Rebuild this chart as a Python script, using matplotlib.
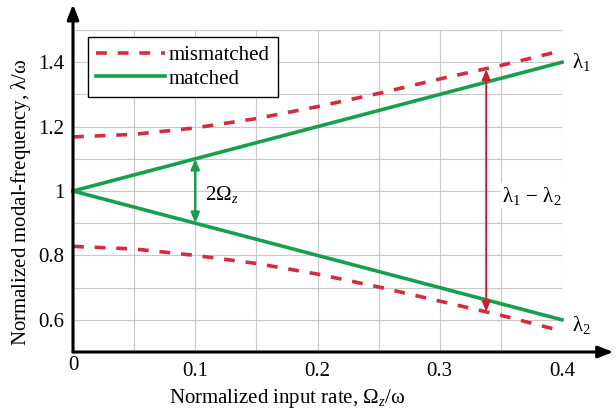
import matplotlib
matplotlib.use("Agg")
import matplotlib.pyplot as plt
import matplotlib.transforms as mtransforms
import numpy as np

plt.rcParams['font.family'] = ['Liberation Serif', 'DejaVu Serif']
plt.rcParams['mathtext.fontset'] = 'custom'
plt.rcParams['mathtext.rm'] = 'Liberation Serif'
plt.rcParams['mathtext.it'] = 'Liberation Serif:italic'

# data
x_mis = [0.0, 0.05, 0.1, 0.15, 0.2, 0.25, 0.3, 0.35, 0.4]
upper_mis = [1.168, 1.176, 1.196, 1.225, 1.262, 1.303, 1.348, 1.390, 1.436]
lower_mis = [0.828, 0.820, 0.800, 0.775, 0.742, 0.702, 0.658, 0.614, 0.565]
x_mat = [0.0, 0.4]
upper_mat = [1.0, 1.4]
lower_mat = [1.0, 0.6]
xticks = [0, 0.1, 0.2, 0.3, 0.4]
xticklabels = ['0', '0.1', '0.2', '0.3', '0.4']
yticks = [0.6, 0.8, 1.0, 1.2, 1.4]
yticklabels = ['0.6', '0.8', '1', '1.2', '1.4']

red = '#d52b3d'
green = '#17a04c'
fs = 15

fig = plt.figure(figsize=(6.16, 4.15), dpi=100)
ax = fig.add_axes([73/616, 1-352/415, (562-73)/616, (352-30)/415])
ax.set_xlim(0, 0.4)
ax.set_ylim(0.5, 1.5)

ax.set_xticks(xticks)
ax.set_xticklabels(xticklabels)
ax.set_xticks(np.arange(0, 0.401, 0.05), minor=True)
ax.set_yticks(yticks)
ax.set_yticklabels(yticklabels)
ax.set_yticks(np.arange(0.5, 1.501, 0.1), minor=True)
ax.grid(True, which='both', color='#c8c8c8', lw=0.8)
ax.tick_params(which='both', length=0, labelsize=fs)
ax.tick_params(axis='x', pad=7)
ax.tick_params(axis='y', pad=6)
for s in ax.spines.values():
    s.set_visible(False)
# lift the "0" label a bit
lbl0 = ax.get_xticklabels()[0]
lbl0.set_transform(lbl0.get_transform() + mtransforms.ScaledTranslation(0, 6/100, fig.dpi_scale_trans))

# axes arrows
ax.annotate('', xy=(1.105, 0), xytext=(0, 0), xycoords='axes fraction',
            arrowprops=dict(arrowstyle='-|>,head_length=0.9,head_width=0.35', color='black', lw=2.2,
                            shrinkA=0, shrinkB=0), annotation_clip=False)
ax.annotate('', xy=(0, 1.08), xytext=(0, 0), xycoords='axes fraction',
            arrowprops=dict(arrowstyle='-|>,head_length=0.9,head_width=0.35', color='black', lw=2.2,
                            shrinkA=0, shrinkB=0), annotation_clip=False)

ax.plot(x_mis, upper_mis, color=red, lw=2.6, dashes=(3.0, 3.0), label='mismatched', clip_on=False)
ax.plot(x_mis, lower_mis, color=red, lw=2.6, dashes=(3.0, 3.0), clip_on=False)
ax.plot(x_mat, upper_mat, color=green, lw=2.6, label='matched', clip_on=False)
ax.plot(x_mat, lower_mat, color=green, lw=2.6, clip_on=False)

# green double arrow
ax.annotate('', xy=(0.1, 1.1), xytext=(0.1, 0.9),
            arrowprops=dict(arrowstyle='<|-|>,head_length=0.6,head_width=0.25', color=green, lw=1.8,
                            shrinkA=0, shrinkB=0))
ax.text(0.108, 0.99, r'2$\mathrm{\Omega}_{z}$', fontsize=fs, va='center', ha='left')

# red double arrow
ax.annotate('', xy=(0.338, 1.378), xytext=(0.338, 0.625),
            arrowprops=dict(arrowstyle='<|-|>,head_length=0.6,head_width=0.25', color='#c8202a', lw=1.4,
                            shrinkA=0, shrinkB=0))
ax.text(0.351, 0.985, r'$\mathrm{\lambda}_1\,-\,\mathrm{\lambda}_2$', fontsize=fs, va='center', ha='left',
        bbox=dict(facecolor='white', edgecolor='none', pad=1))

ax.text(0.408, 1.4, r'$\mathrm{\lambda}_1$', fontsize=fs, va='center', ha='left')
ax.text(0.408, 0.585, r'$\mathrm{\lambda}_2$', fontsize=fs, va='center', ha='left')

leg = ax.legend(loc='upper left', bbox_to_anchor=(0.031, 0.978), fontsize=fs, frameon=True,
                fancybox=False, edgecolor='black', framealpha=1, handlelength=3.3,
                handletextpad=0.15, borderpad=0.4, labelspacing=0.2, borderaxespad=0)
leg.get_frame().set_linewidth(1.0)

ax.set_xlabel(r'Normalized input rate, $\mathrm{\Omega}_z/\mathrm{\omega}$', fontsize=fs)
ax.set_ylabel(r'Normalized modal-frequency, $\mathrm{\lambda}/\mathrm{\omega}$', fontsize=fs)
ax.xaxis.set_label_coords((287-73)/489, -(398-352)/322)
ax.yaxis.set_label_coords((21-73)/489, (352-202)/322)
ax.xaxis.label.set_va('center')
ax.yaxis.label.set_va('center')

fig.savefig('out.png', dpi=100)
